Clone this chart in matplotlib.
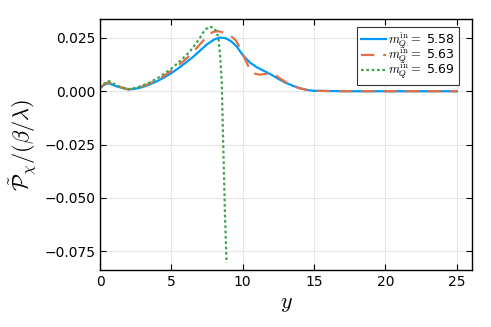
import matplotlib
matplotlib.use("Agg")
import matplotlib.pyplot as plt

plt.rcParams['mathtext.fontset'] = 'cm'

# Valores
x_azul = [0, 0.3, 0.6, 0.9, 1.2, 1.6, 2.0, 2.5, 3.0, 3.5, 4.0, 4.5, 5.0, 5.5, 6.0,
          6.5, 7.0, 7.5, 8.0, 8.4, 8.8, 9.2, 9.6, 10.0, 10.5, 11.0, 11.5, 12.0,
          12.5, 13.0, 13.5, 14.0, 14.5, 15.0, 16.0, 17.0, 18.0, 20.0, 22.0, 25.0]
y_azul = [0.0015, 0.0030, 0.0038, 0.0030, 0.0022, 0.0015, 0.0008, 0.0012, 0.0020,
          0.0032, 0.0047, 0.0065, 0.0085, 0.0108, 0.0134, 0.0160, 0.0190, 0.0220,
          0.0243, 0.0252, 0.0249, 0.0234, 0.0208, 0.0170, 0.0135, 0.0112, 0.0095,
          0.0078, 0.0058, 0.0040, 0.0026, 0.0014, 0.0006, 0.0002, 0.0001, 0.0, 0.0,
          0.0, 0.0, 0.0]

x_laranja = [0, 0.3, 0.6, 0.9, 1.2, 1.6, 2.0, 2.5, 3.0, 3.5, 4.0, 4.5, 5.0, 5.5,
             6.0, 6.5, 7.0, 7.5, 7.9, 8.3, 8.8, 9.2, 9.5, 9.8, 10.15, 10.5, 10.8,
             11.2, 11.6, 12.0, 12.4, 12.8, 13.2, 13.6, 14.0, 14.5, 15.0, 16.0, 17.0,
             18.0, 20.0, 22.0, 25.0]
y_laranja = [0.0015, 0.0033, 0.0043, 0.0034, 0.0024, 0.0016, 0.0009, 0.0014, 0.0023,
             0.0037, 0.0053, 0.0073, 0.0096, 0.0122, 0.0150, 0.0182, 0.0220, 0.0258,
             0.0278, 0.0282, 0.0272, 0.0257, 0.0240, 0.0205, 0.0153, 0.0102, 0.0083,
             0.0078, 0.0081, 0.0083, 0.0070, 0.0052, 0.0036, 0.0023, 0.0014, 0.0006,
             0.0002, 0.0001, 0.0, 0.0, 0.0, 0.0, 0.0]

x_verde = [0, 0.3, 0.6, 0.9, 1.2, 1.6, 2.0, 2.5, 3.0, 3.5, 4.0, 4.5, 5.0, 5.5, 6.0,
           6.5, 7.0, 7.3, 7.6, 7.9, 8.15, 8.3, 8.41, 8.53, 8.64, 8.76, 8.87]
y_verde = [0.0015, 0.0036, 0.0048, 0.0038, 0.0026, 0.0016, 0.0010, 0.0016, 0.0027,
           0.0042, 0.0060, 0.0082, 0.0106, 0.0135, 0.0166, 0.0203, 0.0250, 0.0283,
           0.0302, 0.0300, 0.0282, 0.0250, 0.0171, 0.0046, -0.0266, -0.058, -0.0806]

rotulos = [r"$m_Q^{\mathrm{in}}=$ 5.58", r"$m_Q^{\mathrm{in}}=$ 5.63",
           r"$m_Q^{\mathrm{in}}=$ 5.69"]

fig = plt.figure(figsize=(4.91, 3.27), dpi=100)
ax = fig.add_axes([0.2037, 0.1743, 0.7576, 0.7676])

ax.plot(x_azul, y_azul, color='#009AFA', lw=1.6, label=rotulos[0])
ax.plot(x_laranja, y_laranja, color='#E36F47', lw=1.6, ls=(0, (6, 4)), label=rotulos[1])
ax.plot(x_verde, y_verde, color='#3EA44E', lw=1.6, ls=(0, (1.2, 1.2)), label=rotulos[2])

ax.set_xlim(0, 26.07)
ax.set_ylim(-0.0839, 0.0339)
ax.set_xticks([0, 5, 10, 15, 20, 25])
ax.set_yticks([0.025, 0.0, -0.025, -0.05, -0.075])
ax.set_yticklabels(['0.025', '0.000', '\u22120.025', '\u22120.050', '\u22120.075'])
ax.grid(True, color='#e6e6e6', lw=0.8)
ax.tick_params(direction='in', top=True, right=True, length=4, labelsize=10)
for s in ax.spines.values():
    s.set_linewidth(1.0)

ax.set_xlabel(r"$y$", fontsize=16)
ax.set_ylabel(r"$\tilde{\mathcal{P}}_\chi/(\beta/\lambda)$", fontsize=16)

leg = ax.legend(loc='upper right', bbox_to_anchor=(0.965, 0.968), fontsize=9,
                fancybox=False, framealpha=1, edgecolor='#333333',
                handlelength=2.0, borderpad=0.3, labelspacing=-0.4,
                handletextpad=0.2, borderaxespad=0)
leg.get_frame().set_linewidth(0.8)

fig.savefig('out.png', dpi=100)
